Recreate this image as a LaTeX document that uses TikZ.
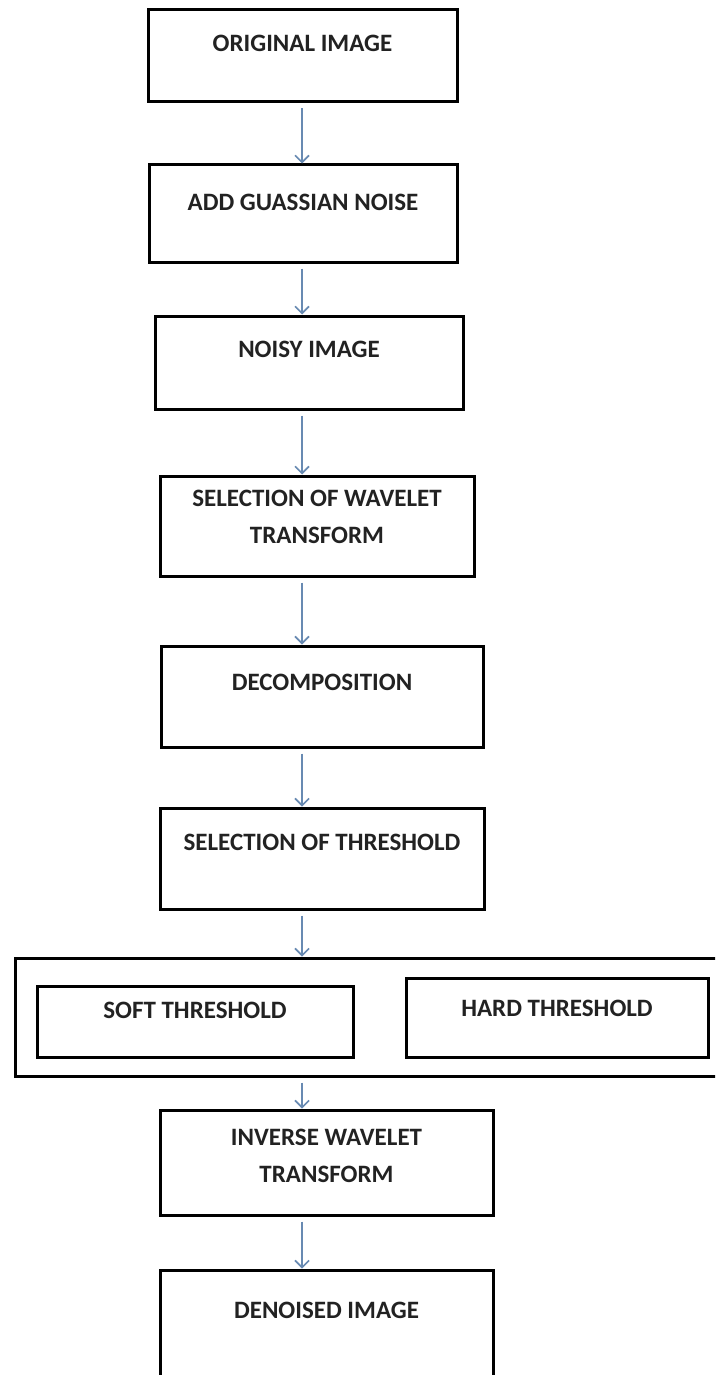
\documentclass[tikz,border=0pt]{standalone}
\usepackage{fontspec}
\setmainfont{Carlito}
\usetikzlibrary{positioning,arrows.meta}

\definecolor{flowblue}{RGB}{104,138,178}
\definecolor{stageink}{RGB}{34,34,34}

\tikzset{
    stage/.style={draw=black, line width=3pt, inner sep=0pt},
    stagetext/.style={inner sep=0pt, align=center, text=stageink,
        font=\bfseries\fontsize{25}{37}\selectfont},
    flow/.style={draw=flowblue, line width=1.6pt, shorten <=5pt,
        -{Straight Barb[length=7pt,width=14pt,line width=1.6pt]}}
}

\begin{document}
\begin{tikzpicture}[x=1pt,y=-1pt]
    \clip (0,0) rectangle (715,1375);
    \fill[white] (0,0) rectangle (715,1375);
    \coordinate (spine) at (302,0);

    \node[stage, minimum width=309pt, minimum height=92pt] (orig) at (302.5,56) {};
    \node[stage, minimum width=308pt, minimum height=97pt] (noise) at (303,213.5) {};
    \node[stage, minimum width=308pt, minimum height=93pt] (noisy) at (309,362.5) {};
    \node[stage, minimum width=314pt, minimum height=100pt] (wavelet) at (317,526) {};
    \node[stage, minimum width=322pt, minimum height=101pt] (decomp) at (322,696.5) {};
    \node[stage, minimum width=324pt, minimum height=101pt] (thresh) at (322,858.5) {};
    \node[stage, minimum width=710pt, minimum height=118pt] (split) at (370,1017) {};
    \node[stage, minimum width=316pt, minimum height=71pt] (soft) at (195,1021.5) {};
    \node[stage, minimum width=302pt, minimum height=79pt] (hard) at (557,1017.5) {};
    \node[stage, minimum width=333pt, minimum height=105pt] (inverse) at (326.5,1162.5) {};
    \node[stage, minimum width=333pt, minimum height=120pt] (denoised) at (326.5,1330) {};

    \node[stagetext, below=26pt of orig.north] (origt) {ORIGINAL IMAGE};
    \node[stagetext, below=30pt of noise.north] (noiset) {ADD GUASSIAN NOISE};
    \node[stagetext, below=26pt of noisy.north] (noisyt) {NOISY IMAGE};
    \node[stagetext, below=15pt of wavelet.north] (wavelett) {SELECTION OF WAVELET\\TRANSFORM};
    \node[stagetext, below=29pt of decomp.north] (decompt) {DECOMPOSITION};
    \node[stagetext, below=27pt of thresh.north] (thresht) {SELECTION OF THRESHOLD};
    \node[stagetext, below=17pt of soft.north] (softt) {SOFT THRESHOLD};
    \node[stagetext, below=23pt of hard.north] (hardt) {HARD THRESHOLD};
    \node[stagetext, below=20pt of inverse.north] (inverset) {INVERSE WAVELET\\TRANSFORM};
    \node[stagetext, below=33pt of denoised.north] (denoisedt) {DENOISED IMAGE};

    \draw[flow] (spine |- orig.south) -- (spine |- noise.north);
    \draw[flow] (spine |- noise.south) -- (spine |- noisy.north);
    \draw[flow] (spine |- noisy.south) -- (spine |- wavelet.north);
    \draw[flow] (spine |- wavelet.south) -- (spine |- decomp.north);
    \draw[flow] (spine |- decomp.south) -- (spine |- thresh.north);
    \draw[flow] (spine |- thresh.south) -- (spine |- split.north);
    \draw[flow] (spine |- split.south) -- (spine |- inverse.north);
    \draw[flow] (spine |- inverse.south) -- (spine |- denoised.north);
\end{tikzpicture}
\end{document}
